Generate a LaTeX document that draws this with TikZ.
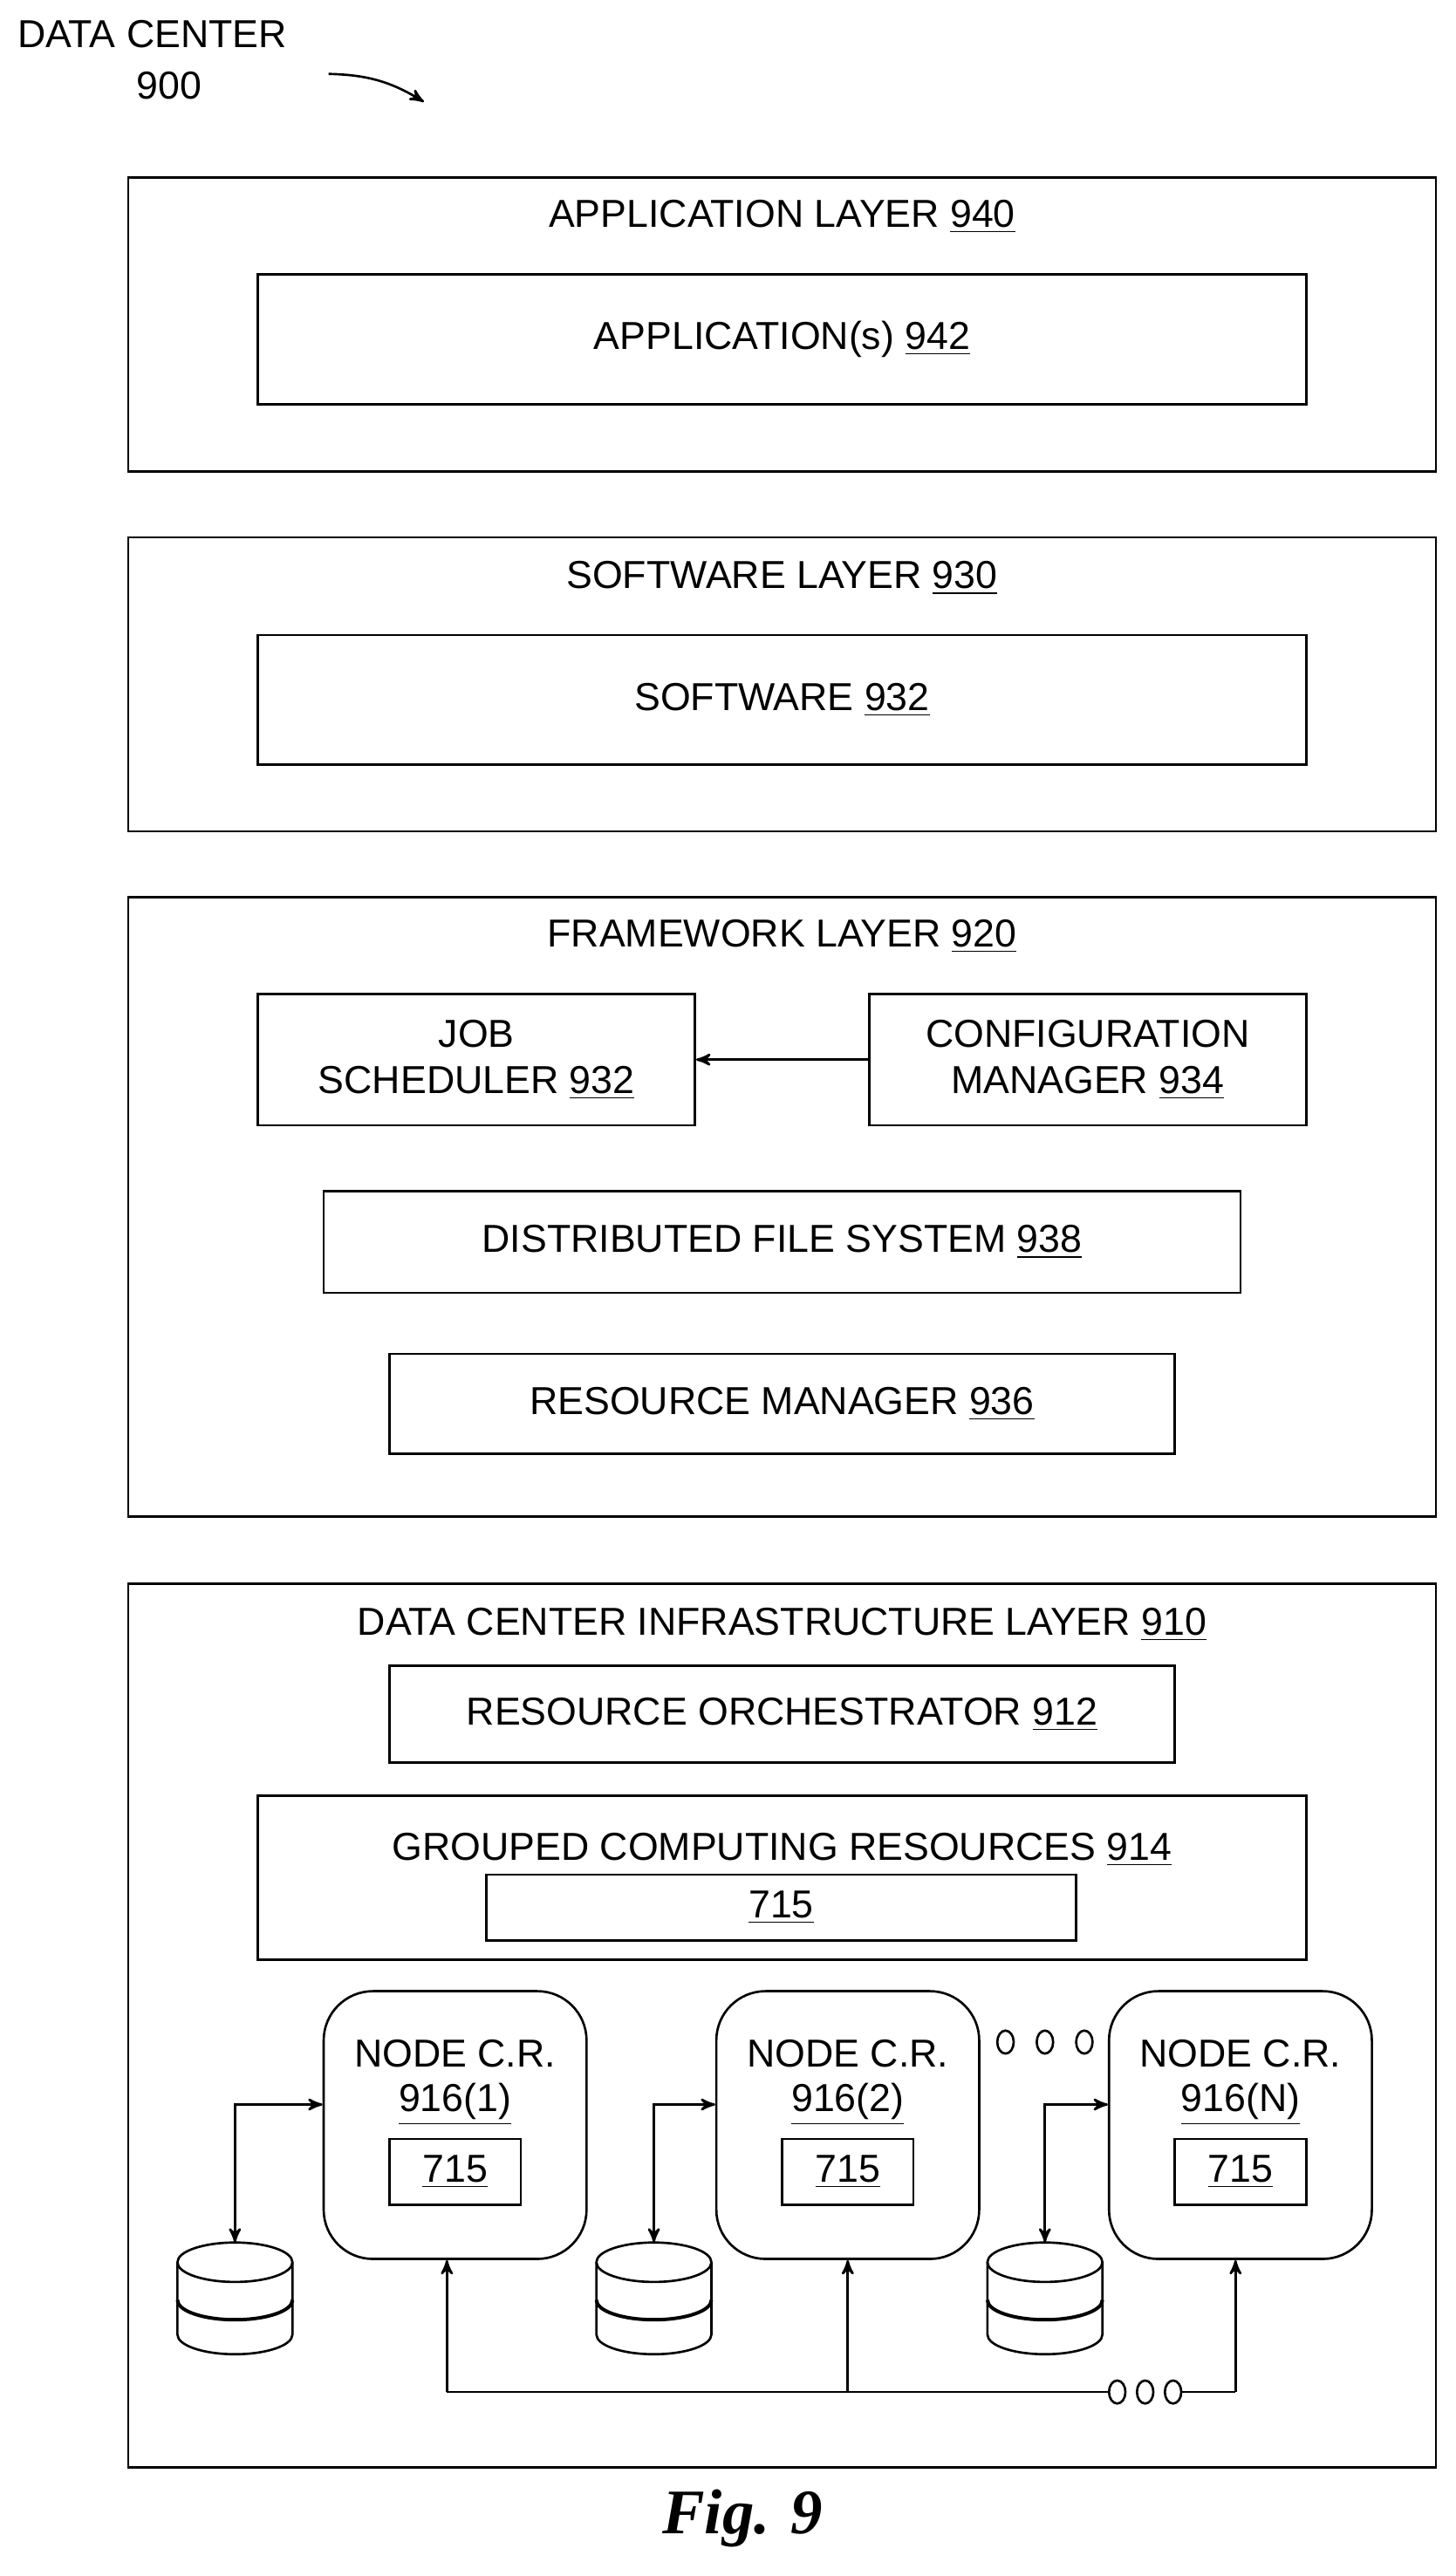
\documentclass[tikz,border=0pt]{standalone}
\usepackage{fontspec}
\setmainfont{Liberation Sans}
\newfontfamily\figfont{Liberation Serif}
\usetikzlibrary{arrows,positioning,shapes.geometric}
\newcommand{\refnum}[1]{\underline{#1}}
\begin{document}
\begin{tikzpicture}
[>=stealth',thick,font=\fontsize{13.5}{16}\selectfont,
box/.style={draw,rectangle,inner sep=0pt},
label/.style={inner sep=0pt},
crnode/.style={draw,rectangle,rounded corners=0.6cm,minimum width=3.2cm,minimum height=3.26cm},
link/.style={<->,thick},
dot/.style={draw,thick,ellipse,minimum width=0.2cm,minimum height=0.28cm,inner sep=0pt}]
\useasboundingbox (0,0) rectangle (17.72,-31.36);

% header
\node[label,anchor=west] at (0.2,-0.42) (dc) {DATA CENTER};
\node[label] at (2.06,-1.04) (dcnum) {900};
\coordinate (hs) at (4.0,-0.9);
\coordinate (he) at (5.16,-1.24);
\draw[->] (hs) to[bend left=15] (he);

% application layer
\node[box,minimum width=15.92cm,minimum height=3.58cm] at (9.52,-3.95) (app) {};
\node[label] at (9.52,-2.64) (apptitle) {APPLICATION LAYER \refnum{940}};
\node[box,minimum width=12.76cm,minimum height=1.58cm] at (9.52,-4.13) (apps) {APPLICATION(s) \refnum{942}};

% software layer
\node[box,minimum width=15.92cm,minimum height=3.58cm] at (9.52,-8.33) (sw) {};
\node[label] at (9.52,-7.04) (swtitle) {SOFTWARE LAYER \refnum{930}};
\node[box,minimum width=12.76cm,minimum height=1.58cm] at (9.52,-8.52) (swin) {SOFTWARE \refnum{932}};

% framework layer
\node[box,minimum width=15.92cm,minimum height=7.54cm] at (9.52,-14.69) (fw) {};
\node[label] at (9.52,-11.40) (fwtitle) {FRAMEWORK LAYER \refnum{920}};
\node[box,minimum width=5.32cm,minimum height=1.6cm,align=center] at (5.80,-12.90) (job) {JOB\\SCHEDULER \refnum{932}};
\node[box,minimum width=5.32cm,minimum height=1.6cm,align=center] at (13.24,-12.90) (cfg) {CONFIGURATION\\MANAGER \refnum{934}};
\node[box,minimum width=11.16cm,minimum height=1.24cm] at (9.52,-15.12) (dfs) {DISTRIBUTED FILE SYSTEM \refnum{938}};
\node[box,minimum width=9.56cm,minimum height=1.22cm] at (9.52,-17.09) (rm) {RESOURCE MANAGER \refnum{936}};
\draw[->] (cfg) -- (job);

% infrastructure layer
\node[box,minimum width=15.92cm,minimum height=10.76cm] at (9.52,-24.66) (infra) {};
\node[label] at (9.52,-19.78) (infratitle) {DATA CENTER INFRASTRUCTURE LAYER \refnum{910}};
\node[box,minimum width=9.56cm,minimum height=1.18cm] at (9.52,-20.87) (ro) {RESOURCE ORCHESTRATOR \refnum{912}};
\node[box,minimum width=12.76cm,minimum height=2.0cm] at (9.52,-22.86) (gcr) {};
\node[label] at (9.52,-22.52) (gcrtitle) {GROUPED COMPUTING RESOURCES \refnum{914}};
\node[box,minimum width=7.18cm,minimum height=0.8cm] at (9.51,-23.22) (gcrin) {\refnum{715}};

% node computing resources
\foreach \i/\x/\lab in {1/5.54/1,2/10.32/2,3/15.10/N}{
  \node[crnode] at (\x,-25.87) (n\i) {};
  \node[label] at (\x,-25.0) (n\i t) {NODE C.R.};
  \node[label] at (\x,-25.62) (n\i n) {\refnum{916(\lab)}};
  \node[box,minimum width=1.6cm,minimum height=0.8cm] at (\x,-26.44) (n\i b) {\refnum{715}};
}
\foreach \x/\k in {12.24/a,12.72/b,13.2/c}
  \node[dot] at (\x,-24.86) (gap\k) {};

% storage
\foreach \i/\x in {1/2.86,2/7.96,3/12.72}{
  \draw[thick] (\x-0.7,-27.54) -- (\x-0.7,-28.42) arc (180:360:0.7 and 0.24) -- (\x+0.7,-27.54);
  \draw[thick] (\x,-27.54) ellipse (0.7 and 0.24);
  \draw[very thick] (\x-0.7,-28.0) arc (180:360:0.7 and 0.24);
  \coordinate (s\i) at (\x,-27.3);
  \draw[link] (s\i) |- ([yshift=0.25cm]n\i.west);
}

% bus
\coordinate (b1) at (5.44,-29.12);
\coordinate (b2) at (10.32,-29.12);
\coordinate (b3) at (15.04,-29.12);
\node[dot] at (13.6,-29.12) (bd1) {};
\node[dot] at (13.94,-29.12) (bd2) {};
\node[dot] at (14.28,-29.12) (bd3) {};
\draw (b1) -- (bd1);
\draw (bd3) -- (b3);
\draw[->] (b1) -- (n1.south -| b1);
\draw[->] (b2) -- (n2.south);
\draw[->] (b3) -- (n3.south -| b3);

% caption
\node[label,font=\figfont\fontsize{22}{26}\selectfont\bfseries\itshape] at (9.04,-30.66) (fig) {Fig. 9};
\end{tikzpicture}
\end{document}
